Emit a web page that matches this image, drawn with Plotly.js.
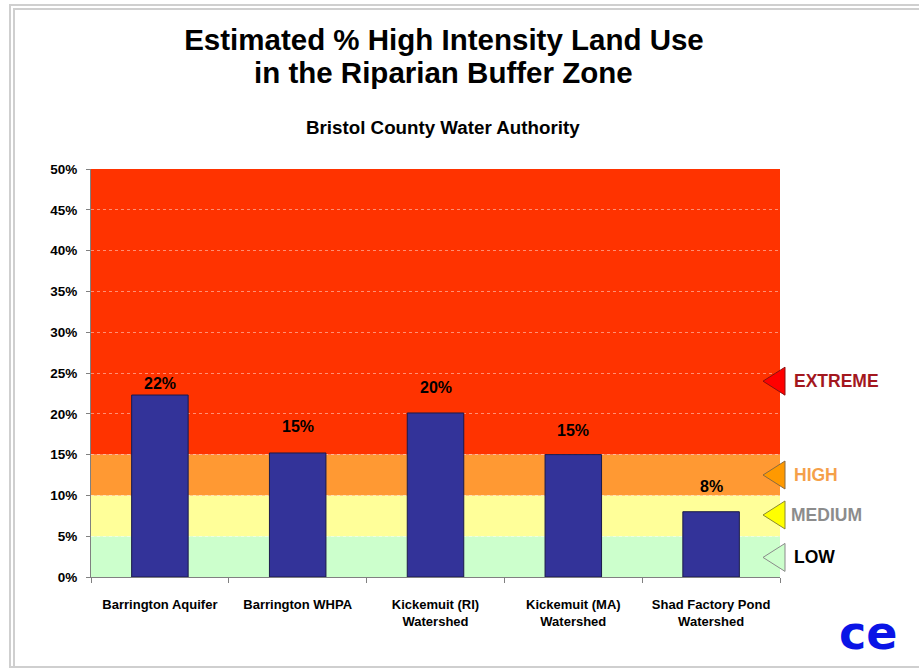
<!DOCTYPE html>
<html>
<head>
<meta charset="utf-8">
<script src="https://cdn.plot.ly/plotly-3.0.1.min.js"></script>
<style>
  html, body { margin: 0; padding: 0; background: #ffffff; }
  #wrap { position: relative; width: 919px; height: 668px; overflow: hidden; }
  #chart { position: absolute; left: 0; top: 0; width: 919px; height: 668px; }
  .frame { position: absolute; pointer-events: none; border-style: solid; border-color: #cfcfcf; border-right: none; }
  #f1 { left: 9px; top: 4px; width: 940px; height: 660px; border-width: 2px 0 2px 2px; }
  #f2 { left: 13px; top: 8px; width: 940px; height: 660px; border-width: 2px 0 0 2px; }
</style>
</head>
<body>
<div id="wrap">
  <div id="chart"></div>
  <div class="frame" id="f1"></div>
  <div class="frame" id="f2"></div>
</div>
<script>
// ---- data ----
const categories = [
  "Barrington Aquifer",
  "Barrington WHPA",
  "Kickemuit (RI)<br>Watershed",
  "Kickemuit (MA)<br>Watershed",
  "Shad Factory Pond<br>Watershed"
];
const values = [22.3, 15.2, 20.1, 15.0, 8.0];
const valueLabels = ["22%", "15%", "20%", "15%", "8%"];

const bandNames = ["LOW", "MEDIUM", "HIGH", "EXTREME"];
const bandLower = [0, 5, 10, 15];
const bandUpper = [5, 10, 15, 50];
const yTickVals = [0, 5, 10, 15, 20, 25, 30, 35, 40, 45, 50];
const yTickText = ["0%", "5%", "10%", "15%", "20%", "25%", "30%", "35%", "40%", "45%", "50%"];

const titleLine1 = "Estimated % High Intensity Land Use";
const titleLine2 = "in the Riparian Buffer Zone";
const subtitle = "Bristol County Water Authority";

// ---- styles ----
const bandFill = ["#ccffcc", "#ffff99", "#ff9933", "#ff3300"];
const markerFill = ["#ccffcc", "#ffff00", "#ff9900", "#ff0000"];
const markerLine = ["#8a8a8a", "#8a8a30", "#8a6a40", "#8a1010"];
const bandTextColor = ["#000000", "#8c8c8c", "#f5a04a", "#a3171e"];
const bandLabelY = [2.4, 7.6, 12.5, 24.0];
const bandLabelShift = [12, 9, 12, 12];
const valueLabelShift = [12, 26, 25, 24, 25];
const FONT = "Liberation Sans, Arial, Helvetica, sans-serif";

const shapes = [];
const annotations = [];

bandNames.forEach((name, i) => {
  shapes.push({
    type: "rect", layer: "below", xref: "paper", yref: "y",
    x0: 0, x1: 1, y0: bandLower[i], y1: bandUpper[i],
    fillcolor: bandFill[i], line: { width: 0 }
  });
  shapes.push({
    type: "path", layer: "above", xref: "paper", yref: "y",
    xsizemode: "pixel", ysizemode: "pixel",
    xanchor: 1, yanchor: bandLabelY[i],
    path: "M -17 0 L 5 14 L 5 -14 Z",
    fillcolor: markerFill[i], line: { color: markerLine[i], width: 1 }
  });
  annotations.push({
    xref: "paper", yref: "y", x: 1, y: bandLabelY[i],
    xanchor: "left", yanchor: "middle", xshift: bandLabelShift[i],
    text: name, showarrow: false,
    font: { family: FONT, size: 17.5, weight: "bold", color: bandTextColor[i] }
  });
});

categories.forEach((c, i) => {
  annotations.push({
    xref: "x", yref: "y", x: c, y: values[i],
    yanchor: "middle", yshift: valueLabelShift[i],
    text: valueLabels[i], showarrow: false,
    font: { family: FONT, size: 16, weight: "bold", color: "#000000" }
  });
});

annotations.push({
  xref: "paper", yref: "paper", x: 0.512, y: 1.2353,
  xanchor: "center", yanchor: "middle",
  text: titleLine2, showarrow: false,
  font: { family: FONT, size: 29.5, weight: "bold", color: "#000000" }
});

annotations.push({
  xref: "paper", yref: "paper", x: 0.5116, y: 1.1005,
  xanchor: "center", yanchor: "middle",
  text: subtitle, showarrow: false,
  font: { family: FONT, size: 18.75, weight: "bold", color: "#000000" }
});

annotations.push({
  xref: "paper", yref: "paper", x: 1.1277, y: -0.137,
  xanchor: "center", yanchor: "middle",
  text: "ce", showarrow: false,
  font: { family: "DejaVu Sans, sans-serif", size: 46, weight: "bold", color: "#0a14e6" }
});

const trace = {
  type: "bar",
  x: categories,
  y: values,
  marker: { color: "#333399", line: { color: "#1a1a4a", width: 1 } },
  hoverinfo: "x+y"
};

const layout = {
  width: 919, height: 668,
  margin: { l: 91, r: 139, t: 169, b: 91 },
  paper_bgcolor: "rgba(0,0,0,0)",
  plot_bgcolor: "rgba(0,0,0,0)",
  showlegend: false,
  bargap: 0.59,
  title: {
    text: titleLine1,
    xref: "container", yref: "container",
    x: 0.4831, y: 0.94, xanchor: "center", yanchor: "middle",
    font: { family: FONT, size: 29.5, weight: "bold", color: "#000000" }
  },
  xaxis: {
    type: "category",
    showline: true, linecolor: "#808080", linewidth: 1,
    ticks: "outside", tickson: "boundaries", ticklen: 5, tickcolor: "#808080",
    showgrid: false, zeroline: false,
    ticklabelstandoff: 15,
    tickfont: { family: FONT, size: 13, weight: "bold", color: "#000000" }
  },
  yaxis: {
    range: [0, 50], tickmode: "array", tickvals: yTickVals, ticktext: yTickText,
    showline: true, linecolor: "#808080", linewidth: 1,
    ticks: "outside", ticklen: 4, tickcolor: "#808080",
    showgrid: true, gridcolor: "rgba(255,255,255,0.45)", griddash: "dot", gridwidth: 1,
    zeroline: false,
    ticklabelstandoff: 6,
    tickfont: { family: FONT, size: 13.5, weight: "bold", color: "#000000" }
  },
  shapes: shapes,
  annotations: annotations
};

Plotly.newPlot("chart", [trace], layout, { displayModeBar: false, staticPlot: true });
</script>
</body>
</html>
